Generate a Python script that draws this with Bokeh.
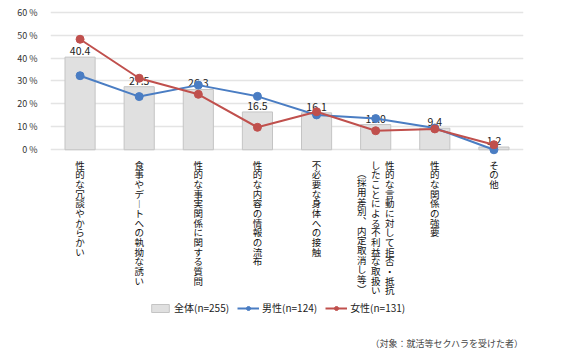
from bokeh.plotting import figure
from bokeh.models import (Range1d, FixedTicker, PrintfTickFormatter, ColumnDataSource,
                          Legend, LegendItem, Label)
from bokeh.core.properties import value
from bokeh.embed import file_html
from bokeh.resources import INLINE

categories = [
    ["性的な冗談やからかい"],
    ["食事やデ︱トへの執拗な誘い"],
    ["性的な事実関係に関する質問"],
    ["性的な内容の情報の流布"],
    ["不必要な身体への接触"],
    ["性的な言動に対して拒否・抵抗", "したことによる不利益な取扱い", "︵採用差別︑内定取消し等︶"],
    ["性的な関係の強要"],
    ["その他"],
]
total = [40.4, 27.5, 26.3, 16.5, 16.1, 11.0, 9.4, 1.2]
male = [32.3, 23.2, 28.2, 23.3, 15.2, 13.6, 9.5, 0.0]
female = [48.2, 31.2, 24.2, 9.8, 16.6, 8.3, 9.1, 2.2]
y_ticks = [0, 10, 20, 30, 40, 50, 60]
legend_labels = ["全体(n=255)", "男性(n=124)", "女性(n=131)"]
footnote = "（対象：就活等セクハラを受けた者）"

FONT = "Noto Sans CJK JP"
BLUE = "#4a7dc3"
RED = "#c0504d"

xs = [i + 0.5 for i in range(len(total))]

p = figure(width=567, height=349, output_backend="svg", toolbar_location=None,
           x_range=Range1d(0, 8), y_range=Range1d(-87.1, 65.1),
           min_border_left=50, min_border_right=44, min_border_top=0, min_border_bottom=0)
p.outline_line_color = None
p.background_fill_color = "white"
p.xaxis.visible = False
p.xgrid.visible = False

ax = p.yaxis[0]
ax.ticker = FixedTicker(ticks=y_ticks)
ax.formatter = PrintfTickFormatter(format="%d %%")
ax.axis_line_color = None
ax.major_tick_line_color = None
ax.minor_tick_line_color = None
ax.major_label_standoff = 7
ax.major_label_text_font = FONT
ax.major_label_text_font_size = "9px"
ax.major_label_text_color = "#333333"

p.ygrid.ticker = FixedTicker(ticks=y_ticks)
p.ygrid.grid_line_color = "#e4e4e4"
p.ygrid.grid_line_width = 1.5

src = ColumnDataSource(dict(x=xs, total=total, male=male, female=female,
                            lbl=[f"{v:.1f}" for v in total]))

bars = p.vbar(x="x", top="total", width=0.51, bottom=0, source=src,
              fill_color="#e0e0e0", line_color="#c4c4c4", line_width=1)
p.text(x="x", y="total", text="lbl", source=src, text_align="center",
       text_baseline="bottom", y_offset=-2, text_font=value(FONT),
       text_font_size="10.5px", text_color="#222222")

ml = p.line(x="x", y="male", source=src, line_color=BLUE, line_width=2)
ms = p.scatter(x="x", y="male", source=src, size=8, fill_color=BLUE, line_color=BLUE)
fl = p.line(x="x", y="female", source=src, line_color=RED, line_width=2)
fs = p.scatter(x="x", y="female", source=src, size=8, fill_color=RED, line_color=RED)

# vertical category labels
lx, ltxt, lxo, lyo = [], [], [], []
for i, cols in enumerate(categories):
    n = len(cols)
    for j, col in enumerate(cols):
        lx.append(xs[i])
        ltxt.append("\n".join(col))
        lxo.append((n - 1) / 2 * 14 - j * 14)
        lyo.append(8 + (8 if (n > 1 and j == n - 1) else 0))
lsrc = ColumnDataSource(dict(x=lx, y=[0] * len(lx), t=ltxt, xo=lxo, yo=lyo))
p.text(x="x", y="y", text="t", x_offset="xo", y_offset="yo", source=lsrc,
       text_align="center", text_baseline="top", text_font=value(FONT),
       text_font_size="9.5px", text_line_height=0.69, text_color="#111111")

legend = Legend(items=[
    LegendItem(label=legend_labels[0], renderers=[bars]),
    LegendItem(label=legend_labels[1], renderers=[ml, ms]),
    LegendItem(label=legend_labels[2], renderers=[fl, fs]),
], orientation="horizontal", location=(99, 34), border_line_color=None,
    background_fill_alpha=0, padding=0, margin=0, spacing=8,
    glyph_width=22, glyph_height=10, label_standoff=3,
    label_text_font=FONT, label_text_font_size="10px", label_text_color="#222222")
p.add_layout(legend)

p.add_layout(Label(x=8, y=-84.5, text=footnote, text_align="right", text_baseline="middle",
                   text_font=FONT, text_font_size="9px", text_color="#444444"))

open("out.html", "w").write(file_html(p, INLINE))
